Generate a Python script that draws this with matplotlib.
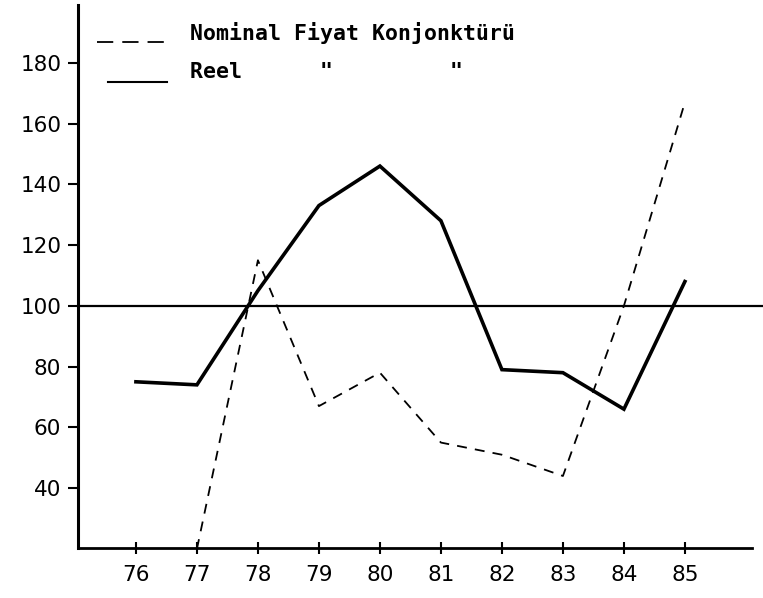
import matplotlib
matplotlib.use("Agg")
import matplotlib.pyplot as plt
from matplotlib.lines import Line2D

years = [76, 77, 78, 79, 80, 81, 82, 83, 84, 85]
year_labels = ["76", "77", "78", "79", "80", "81", "82", "83", "84", "85"]
nominal = [None, 20, 115, 67, 78, 55, 51, 44, 100, 167]
reel = [75, 74, 105, 133, 146, 128, 79, 78, 66, 108]
y_ticks = [40, 60, 80, 100, 120, 140, 160, 180]
legend_nominal = "Nominal Fiyat Konjonktürü"
legend_reel = 'Reel      "         "'

fig = plt.figure(figsize=(7.63, 5.98), dpi=100)
ax = fig.add_axes([0.1022, 0.0836, 0.8834, 0.908])

nx = [x for x, v in zip(years, nominal) if v is not None]
ny = [v for v in nominal if v is not None]
ax.plot(nx, ny, color="black", lw=1.3, dashes=(5.5, 4.5), solid_capstyle="butt")
ax.plot(years, reel, color="black", lw=2.6, solid_joinstyle="miter")
ax.axhline(100, xmin=0, xmax=1.017, color="black", lw=1.6, clip_on=False)

ax.set_xlim(75.05, 86.1)
ax.set_ylim(20.3, 199)
ax.set_xticks(years)
ax.set_xticklabels(year_labels)
ax.set_yticks(y_ticks)
ax.set_yticklabels([str(t) for t in y_ticks])

for s in ["top", "right"]:
    ax.spines[s].set_visible(False)
ax.spines["left"].set_linewidth(2.2)
ax.spines["bottom"].set_linewidth(2.0)
ax.tick_params(axis="y", direction="out", length=7, width=1.5, pad=5, labelsize=15.5)
ax.tick_params(axis="x", direction="inout", length=8, width=1.5, pad=8, labelsize=15.5)

# legend drawn manually in axes-fraction coordinates
def fx(px):
    return (px - 78) / (752 - 78)

def fy(py):
    return (548 - py) / (548 - 5)

ax.add_line(Line2D([fx(97), fx(167)], [fy(42), fy(42)], transform=ax.transAxes,
                   color="black", lw=1.3, dashes=(9, 5), clip_on=False))
ax.add_line(Line2D([fx(108), fx(167)], [fy(82), fy(82)], transform=ax.transAxes,
                   color="black", lw=1.5, clip_on=False))
ax.text(fx(190), fy(33), legend_nominal, transform=ax.transAxes, va="center", ha="left",
        family="DejaVu Sans Mono", fontweight="bold", fontsize=15.5)
ax.text(fx(190), fy(72), legend_reel, transform=ax.transAxes, va="center", ha="left",
        family="DejaVu Sans Mono", fontweight="bold", fontsize=15.5)

fig.savefig("out.png", dpi=100)
